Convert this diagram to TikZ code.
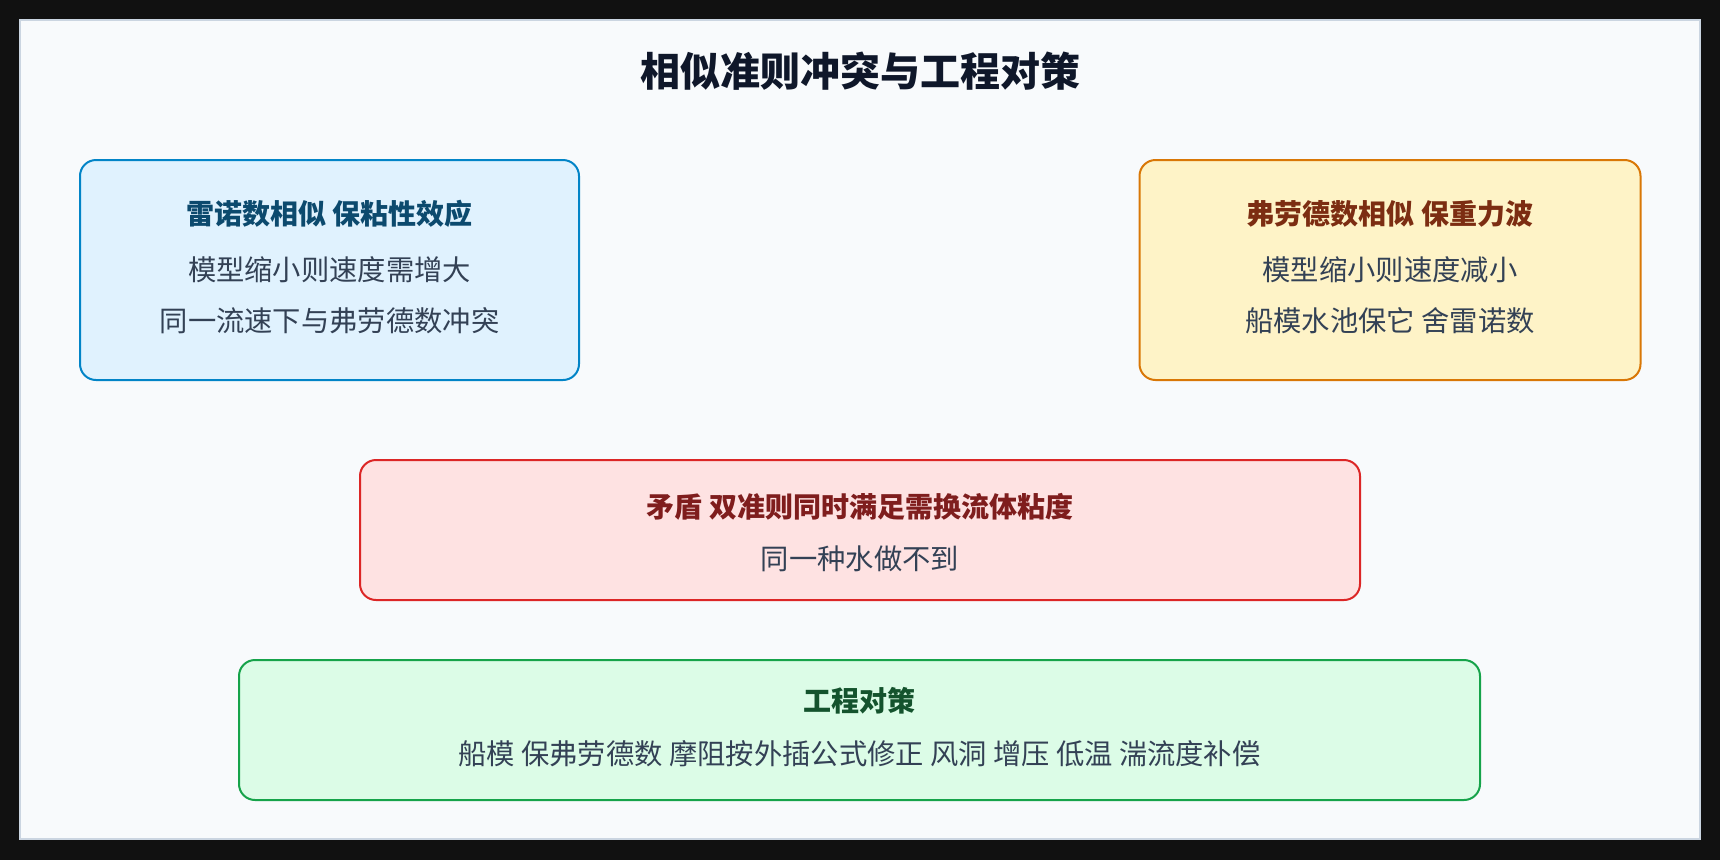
\documentclass[tikz,border=0pt]{standalone}
\usepackage{fontspec}
\setmainfont{Noto Sans CJK SC}
\definecolor{frame}{HTML}{111111}
\definecolor{panelbg}{HTML}{F8FAFC}
\definecolor{panelbd}{HTML}{CBD5E1}
\definecolor{titlec}{HTML}{0F172A}
\definecolor{bodyc}{HTML}{334155}
\definecolor{bluef}{HTML}{E0F2FE}
\definecolor{blued}{HTML}{0284C7}
\definecolor{bluet}{HTML}{0C4A6E}
\definecolor{orgf}{HTML}{FEF3C7}
\definecolor{orgd}{HTML}{D97706}
\definecolor{orgt}{HTML}{7C2D12}
\definecolor{redf}{HTML}{FEE2E2}
\definecolor{redd}{HTML}{DC2626}
\definecolor{redt}{HTML}{7F1D1D}
\definecolor{grnf}{HTML}{DCFCE7}
\definecolor{grnd}{HTML}{16A34A}
\definecolor{grnt}{HTML}{14532D}
\begin{document}
\begin{tikzpicture}[x=1pt,y=-1pt,
  card/.style={rounded corners=16pt, line width=2pt, inner sep=0pt},
  head/.style={font=\fontsize{28}{34}\selectfont\bfseries, inner sep=0pt, anchor=center},
  body/.style={font=\fontsize{28.3}{34}\selectfont, text=bodyc, inner sep=0pt, anchor=center}]
\useasboundingbox (0,0) rectangle (1720,860);
\fill[frame] (0,0) rectangle (1720,860);
\draw[fill=panelbg, draw=panelbd, line width=2pt] (20,20) rectangle (1700,839);
\node[font=\fontsize{40}{46}\selectfont\bfseries, text=titlec, inner sep=0pt] (title) at (860,71) {相似准则冲突与工程对策};
% blue
\node[card, fill=bluef, draw=blued, minimum width=499pt, minimum height=220pt] (re) at (329.5,270) {};
\node[head, text=bluet] (reh) at (329.5,214) {雷诺数相似 保粘性效应};
\node[body] (re1) at (329.5,270) {模型缩小则速度需增大};
\node[body] (re2) at (329.5,321) {同一流速下与弗劳德数冲突};
% orange
\node[card, fill=orgf, draw=orgd, minimum width=501pt, minimum height=220pt] (fr) at (1390,270) {};
\node[head, text=orgt] (frh) at (1390,214) {弗劳德数相似 保重力波};
\node[body] (fr1) at (1390,270) {模型缩小则速度减小};
\node[body] (fr2) at (1390,321) {船模水池保它 舍雷诺数};
% red
\node[card, fill=redf, draw=redd, minimum width=1000pt, minimum height=140pt] (cf) at (860,530) {};
\node[head, text=redt] (cfh) at (860,507) {矛盾 双准则同时满足需换流体粘度};
\node[body] (cf1) at (860,559) {同一种水做不到};
% green
\node[card, fill=grnf, draw=grnd, minimum width=1241pt, minimum height=140pt] (en) at (859.5,730) {};
\node[head, text=grnt] (enh) at (859.5,701) {工程对策};
\node[body] (en1) at (859.5,754) {船模 保弗劳德数 摩阻按外插公式修正 风洞 增压 低温 湍流度补偿};
\end{tikzpicture}
\end{document}
